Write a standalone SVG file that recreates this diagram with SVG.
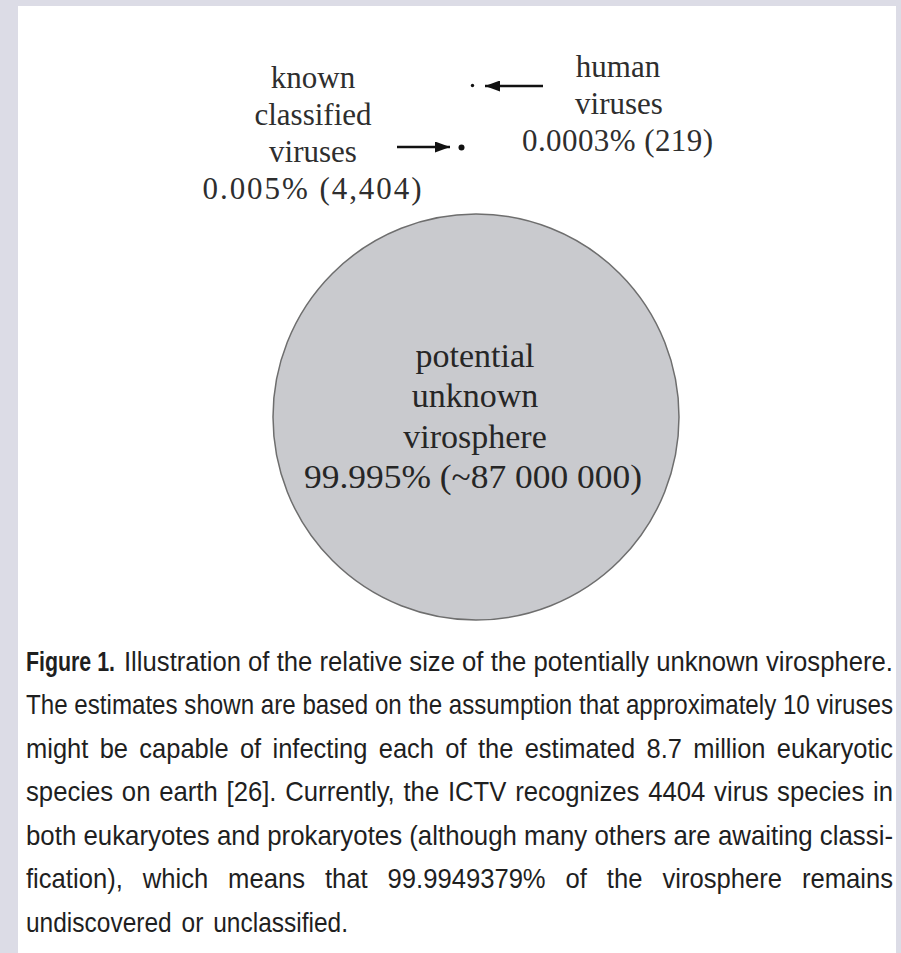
<svg xmlns="http://www.w3.org/2000/svg" width="901" height="953" viewBox="0 0 901 953">
<defs>
<style>
.lbl{font-family:"Liberation Serif","Times New Roman",serif;font-size:31px;fill:#2e2e2e;text-anchor:middle}
.clbl{font-family:"Liberation Serif","Times New Roman",serif;font-size:34px;fill:#262626;text-anchor:middle}
.cap{font-family:"Liberation Sans",Arial,sans-serif;font-size:24px;fill:#1f1f1f}
.conn{stroke:#111;stroke-width:2.5;fill:none}
</style>
<marker id="ah" markerUnits="userSpaceOnUse" markerWidth="15" markerHeight="11" refX="15" refY="5.5" orient="auto">
<path d="M0,0 L15,5.5 L0,11 z" fill="#111"/>
</marker>
</defs>
<rect x="0" y="0" width="901" height="953" fill="#dcdce6"/>
<rect x="18" y="6" width="878" height="947" fill="#ffffff"/>

<g id="known-classified">
<text class="lbl" x="313" y="88">known</text>
<text class="lbl" x="313" y="125">classified</text>
<text class="lbl" x="313" y="162">viruses</text>
<text class="lbl" x="312" y="199" textLength="219" lengthAdjust="spacing">0.005% (4,404)</text>
<circle cx="461.5" cy="147.5" r="3" fill="#111"/>
</g>

<g id="human-viruses">
<text class="lbl" x="618" y="77">human</text>
<text class="lbl" x="619" y="114">viruses</text>
<text class="lbl" x="617.5" y="151" textLength="191" lengthAdjust="spacing">0.0003% (219)</text>
<circle cx="472.5" cy="85.5" r="1.7" fill="#111"/>
</g>

<g id="unknown-virosphere">
<circle cx="476" cy="417" r="203" fill="#c9cace" stroke="#6e6e6e" stroke-width="1.5"/>
<text class="clbl" x="475" y="367">potential</text>
<text class="clbl" x="475" y="407">unknown</text>
<text class="clbl" x="475" y="448">virosphere</text>
<text class="clbl" x="473" y="488" textLength="338" lengthAdjust="spacingAndGlyphs">99.995% (~87 000 000)</text>
</g>

<g id="connectors">
<line class="conn" x1="543" y1="86" x2="485" y2="86" marker-end="url(#ah)"/>
<line class="conn" x1="397" y1="147" x2="450" y2="147" marker-end="url(#ah)"/>
</g>

<g id="caption" class="cap" transform="scale(1,1.12)">
<text x="26" y="599.1" font-weight="bold" textLength="89" lengthAdjust="spacingAndGlyphs">Figure 1.</text>
<text x="124" y="599.1" textLength="769" lengthAdjust="spacingAndGlyphs">Illustration of the relative size of the potentially unknown virosphere.</text>
<text x="26" y="637.9" textLength="867" lengthAdjust="spacingAndGlyphs">The estimates shown are based on the assumption that approximately 10 viruses</text>
<text x="26" y="676.8" textLength="867" lengthAdjust="spacingAndGlyphs" word-spacing="4">might be capable of infecting each of the estimated 8.7 million eukaryotic</text>
<text x="26" y="715.6" textLength="867" lengthAdjust="spacingAndGlyphs" word-spacing="1.5">species on earth [26]. Currently, the ICTV recognizes 4404 virus species in</text>
<text x="26" y="754.5" textLength="867" lengthAdjust="spacingAndGlyphs">both eukaryotes and prokaryotes (although many others are awaiting classi-</text>
<text x="26" y="793.3" textLength="867" lengthAdjust="spacingAndGlyphs" word-spacing="12">fication), which means that 99.9949379% of the virosphere remains</text>
<text x="26" y="832.1" textLength="322" lengthAdjust="spacingAndGlyphs" word-spacing="3">undiscovered or unclassified.</text>
</g>
<rect x="896" y="0" width="5" height="953" fill="#dcdce6"/>
</svg>
